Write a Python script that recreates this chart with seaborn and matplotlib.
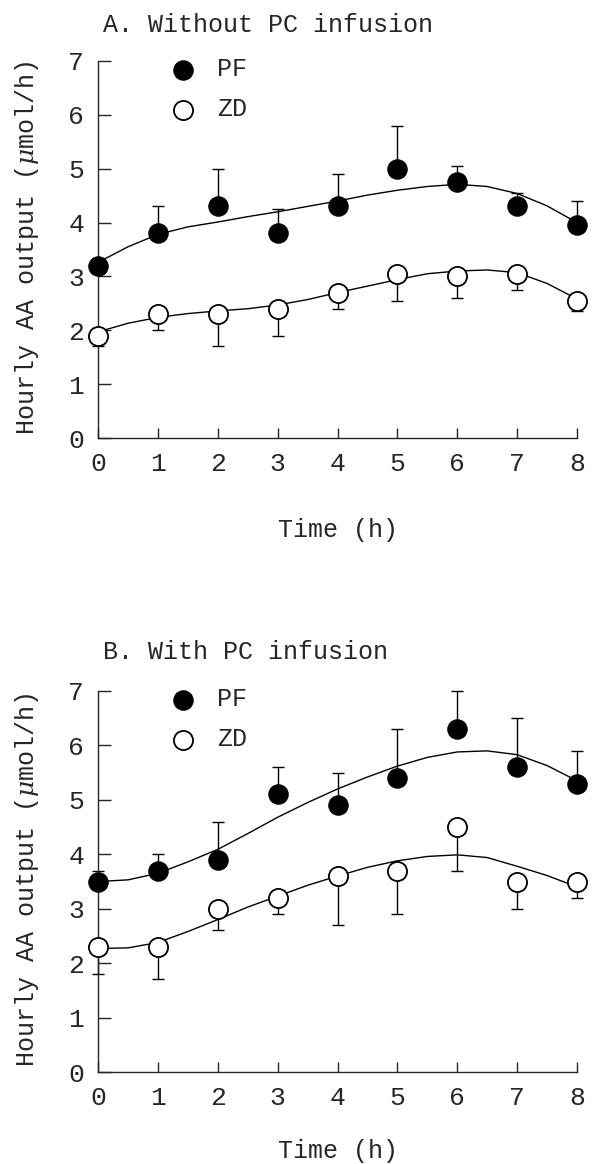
import matplotlib
matplotlib.use("Agg")
import matplotlib.pyplot as plt
import seaborn as sns
import numpy as np

# measured points (hourly AA output, umol/h) and one-sided SE bars
hours = [0, 1, 2, 3, 4, 5, 6, 7, 8]

a_pf = [3.2, 3.8, 4.3, 3.8, 4.3, 5.0, 4.75, 4.3, 3.95]
a_pf_err = [0.15, 0.5, 0.7, 0.45, 0.6, 0.8, 0.3, 0.25, 0.45]
a_zd = [1.9, 2.3, 2.3, 2.4, 2.7, 3.05, 3.0, 3.05, 2.55]
a_zd_err = [0.2, 0.3, 0.6, 0.5, 0.3, 0.5, 0.4, 0.3, 0.2]

b_pf = [3.5, 3.7, 3.9, 5.1, 4.9, 5.4, 6.3, 5.6, 5.3]
b_pf_err = [0.2, 0.3, 0.7, 0.5, 0.6, 0.9, 0.7, 0.9, 0.6]
b_zd = [2.3, 2.3, 3.0, 3.2, 3.6, 3.7, 4.5, 3.5, 3.5]
b_zd_err = [0.5, 0.6, 0.4, 0.3, 0.9, 0.8, 0.8, 0.5, 0.3]

# fitted curves, read every half hour
fit_hours = [0, 0.5, 1, 1.5, 2, 2.5, 3, 3.5, 4, 4.5, 5, 5.5, 6, 6.5, 7, 7.5, 8]
a_pf_fit = [3.26, 3.55, 3.78, 3.92, 4.01, 4.11, 4.20, 4.30, 4.40, 4.51, 4.60,
            4.67, 4.71, 4.67, 4.54, 4.31, 4.0]
a_zd_fit = [1.97, 2.13, 2.24, 2.31, 2.36, 2.40, 2.47, 2.57, 2.70, 2.82, 2.94,
            3.05, 3.10, 3.12, 3.07, 2.87, 2.58]
b_pf_fit = [3.50, 3.53, 3.65, 3.86, 4.09, 4.38, 4.68, 4.95, 5.20, 5.42, 5.62,
            5.78, 5.88, 5.90, 5.83, 5.63, 5.35]
b_zd_fit = [2.27, 2.28, 2.38, 2.58, 2.80, 3.03, 3.23, 3.43, 3.60, 3.76, 3.88,
            3.96, 3.99, 3.94, 3.78, 3.61, 3.40]

sns.set_style("ticks")
plt.rcParams['font.family'] = ['Liberation Mono', 'DejaVu Sans']
plt.rcParams['mathtext.fontset'] = 'dejavuserif'
fs = 18
tick_fs = 19

W, H = 596, 1164
fig = plt.figure(figsize=(W / 100, H / 100), dpi=100)
axA = fig.add_axes([98 / W, 1 - 438 / H, 479 / W, 377 / H])
axB = fig.add_axes([98 / W, 1 - 1072 / H, 479 / W, 381 / H])


def draw_panel(ax, pf, pf_err, zd, zd_err, pf_fit, zd_fit, xlab_y):
    sns.lineplot(x=fit_hours, y=pf_fit, ax=ax, color='black', lw=1.0)
    sns.lineplot(x=fit_hours, y=zd_fit, ax=ax, color='black', lw=1.0)
    zeros = np.zeros(len(hours))
    ax.errorbar(hours, pf, yerr=[zeros, pf_err], fmt='none', ecolor='black',
                elinewidth=1.0, capsize=4, capthick=1.0, clip_on=False)
    ax.errorbar(hours, zd, yerr=[zd_err, zeros], fmt='none', ecolor='black',
                elinewidth=1.0, capsize=4, capthick=1.0, clip_on=False)
    sns.scatterplot(x=hours, y=pf, ax=ax, s=190, color='black',
                    edgecolor='black', linewidth=1.0, zorder=4, clip_on=False,
                    label='PF')
    sns.scatterplot(x=hours, y=zd, ax=ax, s=190, color='white',
                    edgecolor='black', linewidth=1.3, zorder=4, clip_on=False,
                    label='ZD')
    ax.set_xlim(0, 8)
    ax.set_ylim(0, 7)
    ax.set_xticks(range(0, 9))
    ax.set_yticks(range(0, 8))
    sns.despine(ax=ax)
    ax.tick_params(axis='y', direction='in', length=9, width=1.0, pad=10,
                   labelsize=tick_fs)
    ax.tick_params(axis='x', direction='in', length=7.5, width=1.0, pad=10,
                   labelsize=tick_fs)
    for s in ax.spines.values():
        s.set_linewidth(1.0)
    ax.set_xlabel('Time (h)', fontsize=fs)
    ax.xaxis.set_label_coords(0.5, xlab_y)
    ax.set_ylabel('')
    ax.legend(loc='upper left', bbox_to_anchor=(0.152, 1.01), frameon=False,
              fontsize=fs, handlelength=1.0, handletextpad=0.85,
              labelspacing=0.65, borderpad=0, borderaxespad=0)


draw_panel(axA, a_pf, a_pf_err, a_zd, a_zd_err, a_pf_fit, a_zd_fit, -0.212)
draw_panel(axB, b_pf, b_pf_err, b_zd, b_zd_err, b_pf_fit, b_zd_fit, -0.175)

ylab = r'Hourly AA output ($\mu$mol/h)'
fig.text(103 / W, 1 - 25 / H, 'A. Without PC infusion', ha='left',
         va='center', fontsize=fs)
fig.text(103 / W, 1 - 652 / H, 'B. With PC infusion', ha='left',
         va='center', fontsize=fs)
fig.text(27 / W, 1 - 248 / H, ylab, rotation=90, ha='center', va='center',
         fontsize=fs)
fig.text(27 / W, 1 - 880 / H, ylab, rotation=90, ha='center', va='center',
         fontsize=fs)

fig.savefig('out.png', dpi=100)
